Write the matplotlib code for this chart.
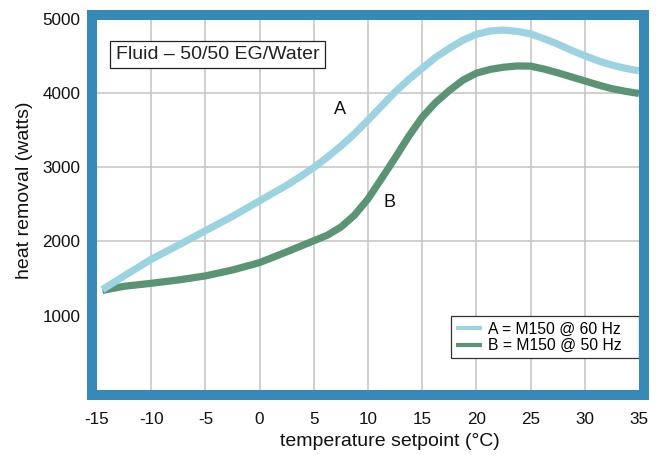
import matplotlib
matplotlib.use('Agg')
from matplotlib import pyplot as plt
from matplotlib.lines import Line2D
from matplotlib.patches import Rectangle

plt.rcParams['font.family'] = ['Liberation Sans', 'DejaVu Sans']
plt.rcParams['axes.unicode_minus'] = False

# values (deg C, watts)
temps = [-14.5, -12.5, -10, -7.5, -5, -2.5, 0, 2.5, 3.75, 5, 6.25, 7.5,
         8.75, 10, 11.25, 12.5, 13.75, 15, 16.25, 17.5, 18.75, 20, 21.25,
         22.5, 23.75, 25, 26.25, 27.5, 28.75, 30, 31.25, 32.5, 33.75, 35]
heat_a = [1350, 1535, 1760, 1950, 2145, 2340, 2550, 2760, 2875, 3000, 3140, 3290,
          3455, 3640, 3830, 4020, 4190, 4340, 4490, 4610, 4720, 4800, 4845,
          4857, 4840, 4805, 4740, 4668, 4585, 4510, 4440, 4384, 4340, 4307]
heat_b = [1340, 1395, 1435, 1480, 1535, 1615, 1715, 1860, 1935, 2010, 2085, 2195,
          2355, 2575, 2850, 3130, 3420, 3680, 3880, 4040, 4180, 4275, 4325,
          4355, 4372, 4370, 4330, 4280, 4225, 4170, 4115, 4065, 4030, 4000]

x_ticks = [-15, -10, -5, 0, 5, 10, 15, 20, 25, 30, 35]
y_ticks = [1000, 2000, 3000, 4000, 5000]
x_grid = [-10, -5, 0, 5, 10, 15, 20, 25, 30]
y_grid = [2000, 3000, 4000]

label_a = 'A = M150 @ 60 Hz'
label_b = 'B = M150 @ 50 Hz'

FRAME = '#378ab7'
COLOR_A = '#9bd3e0'
COLOR_B = '#5a9474'
GRID = '#c4c4c4'

W, H = 663, 455
fig = plt.figure(figsize=(W / 100, H / 100), dpi=100)
left, right, top, bottom = 97, 639, 19.5, 389.5
ax = fig.add_axes([left / W, 1 - bottom / H, (right - left) / W, (bottom - top) / H])

ax.set_xlim(-15, 35)
ax.set_ylim(0, 5000)
for s in ax.spines.values():
    s.set_visible(False)

ax.vlines(x_grid, 0, 5000, color=GRID, lw=1.1, zorder=1)
ax.hlines(y_grid, -15, 35, color=GRID, lw=1.1, zorder=1)

ax.plot(temps, heat_b, color=COLOR_B, lw=5.2, solid_capstyle='butt',
        solid_joinstyle='round', zorder=3)
ax.plot(temps, heat_a, color=COLOR_A, lw=5.2, solid_capstyle='butt',
        solid_joinstyle='round', zorder=4)

ax.set_xticks(x_ticks)
ax.set_yticks(y_ticks)
ax.set_xticklabels([str(t) for t in x_ticks])
ax.set_yticklabels([str(t) for t in y_ticks])
ax.tick_params(axis='both', length=0, labelsize=12.3, colors='#111111')
ax.tick_params(axis='x', pad=16)
ax.tick_params(axis='y', pad=12)

ax.set_xlabel('temperature setpoint (°C)', fontsize=14, va='center', color='#111111')
ax.xaxis.set_label_coords((390 - left) / (right - left), (bottom - 442) / (bottom - top))
ax.set_ylabel('heat removal (watts)', fontsize=14, va='center', color='#111111')
ax.yaxis.set_label_coords((25 - left) / (right - left), (bottom - 190) / (bottom - top))

ax.text(0.2223, 0.9054, 'Fluid – 50/50 EG/Water', transform=ax.transAxes,
        fontsize=14, ha='center', va='center', color='#222222', zorder=6,
        bbox=dict(boxstyle='square,pad=0.28', fc='white', ec='#222222', lw=0.9))
ax.text(0.4483, 0.7568, 'A', transform=ax.transAxes, fontsize=13,
        ha='center', va='center', color='#111111')
ax.text(0.5393, 0.5046, 'B', transform=ax.transAxes, fontsize=13,
        ha='center', va='center', color='#111111')

handles = [Line2D([], [], color=COLOR_A, lw=3, solid_capstyle='butt'),
           Line2D([], [], color=COLOR_B, lw=3, solid_capstyle='butt')]
leg = ax.legend(handles, [label_a, label_b], loc='lower left',
                bbox_to_anchor=(0.6531, 0.0838, 0.3469, 0.11), mode='expand',
                borderaxespad=0, fontsize=11.3, handlelength=1.65, handletextpad=0.35,
                labelspacing=0.12, borderpad=0.33, fancybox=False, framealpha=1,
                edgecolor='#333333')
leg.get_frame().set_linewidth(0.9)
leg.set_zorder(7)

fig.add_artist(Rectangle((92 / W, 1 - 394.5 / H), 552 / W, 380 / H,
                         transform=fig.transFigure, fill=False, ec=FRAME,
                         lw=7.2, joinstyle='miter', zorder=10))

fig.savefig('out.png', dpi=100)
